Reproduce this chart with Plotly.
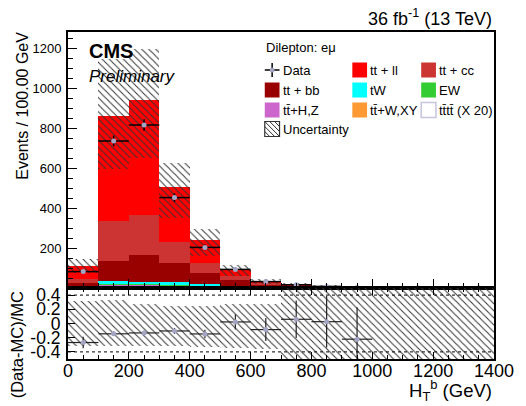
import numpy as np
import plotly.graph_objects as go

# ---------------- data ----------------
# H_T^b bins (GeV), 100 GeV wide
bin_low = [0, 100, 200, 300, 400, 500, 600, 700, 800, 900, 1000, 1100, 1200, 1300]
bin_width = 100

# stacked predictions per bin (events)
ttW_XY = [1, 7, 7, 6, 4, 2, 1, 0.5, 0.3, 0.15, 0.08, 0.04, 0.03, 0.02]
ttH_Z = [1, 11, 10, 8, 5, 2, 1, 0.5, 0.3, 0.15, 0.08, 0.04, 0.03, 0.02]
EW = [2, 3, 3, 2, 2, 1, 0.5, 0.3, 0.2, 0.1, 0.05, 0.02, 0.02, 0.01]
tW = [4, 16, 12, 15, 10, 6, 2.5, 1.2, 0.6, 0.3, 0.15, 0.07, 0.05, 0.03]
tt_bb = [15, 100, 133, 96, 56, 27, 10, 4.5, 2.3, 1.1, 0.5, 0.12, 0.1, 0.05]
tt_cc = [20, 198, 200, 105, 46, 22, 10, 4, 2, 1, 0.45, 0.1, 0.08, 0.04]
tt_ll = [69, 525, 575, 273, 115, 31, 10, 4.1, 2.1, 1.05, 0.5, 0.06, 0.05, 0.03]
tttt_x20 = [0.3, 2, 4, 5, 5, 4.5, 3.5, 2.5, 1.8, 1.2, 0.8, 0.5, 0.3, 0.2]

# observed events
data = [82, 735, 815, 452, 203, 93, 32, 16, 8, 3, 0, 1, 0, 1]

# relative systematic uncertainty of the prediction (up / down)
unc_up = [0.31, 0.33, 0.27, 0.24, 0.25, 0.27, 0.28, 0.7, 0.8, 0.9, 1.0, 1.0, 1.0, 1.0]
unc_dn = [0.32, 0.31, 0.31, 0.31, 0.33, 0.34, 0.36, 0.7, 0.8, 0.9, 1.0, 1.0, 1.0, 1.0]

# stack order, bottom first
stack = [
    ("tt\u0304+W,XY", ttW_XY, "#ff9933"),
    ("tt\u0304+H,Z", ttH_Z, "#cc66cc"),
    ("EW", EW, "#33cc33"),
    ("tW", tW, "#00ffff"),
    ("tt + bb", tt_bb, "#990000"),
    ("tt + cc", tt_cc, "#cc3333"),
    ("tt + ll", tt_ll, "#ff0000"),
]
TTTT_COLOR = "#c8c4dc"
DATA_COLOR = "#a4a4c4"

# ---------------- geometry ----------------
W, H = 526, 406
L, R, T, B = 68, 25, 32, 47
SPLIT = 288  # pixel row where the two pads meet
FONT = "Liberation Sans"


def px_x(px):
    return (px - L) / (W - L - R)


def px_y(py):
    return (H - B - py) / (H - T - B)


centers = np.array(bin_low) + bin_width / 2
mc = np.sum([np.array(v, dtype=float) for _, v, _ in stack], axis=0)
d = np.array(data, dtype=float)
up = np.array(unc_up)
dn = np.array(unc_dn)

fig = go.Figure()

# stacked prediction
base = np.zeros(len(bin_low))
for name, vals, col in stack:
    v = np.array(vals, dtype=float)
    fig.add_trace(go.Bar(
        x=centers, y=v, base=base, width=bin_width, name=name,
        marker=dict(color=col, line=dict(width=0)),
        xaxis="x", yaxis="y", showlegend=False,
    ))
    base = base + v

# four-top signal x20 as a line histogram
fig.add_trace(go.Scatter(
    x=bin_low + [bin_low[-1] + bin_width], y=tttt_x20 + [tttt_x20[-1]],
    mode="lines", line=dict(shape="hv", color=TTTT_COLOR, width=1.5),
    xaxis="x", yaxis="y", showlegend=False,
))

hatch = dict(shape="\\", fgcolor="#333333", bgcolor="rgba(0,0,0,0)",
             size=5, solidity=0.2, fillmode="replace")

# uncertainty band on the prediction
fig.add_trace(go.Bar(
    x=centers, y=mc * (up + dn), base=mc * (1 - dn), width=bin_width,
    marker=dict(color="rgba(0,0,0,0)", line=dict(width=0), pattern=hatch),
    xaxis="x", yaxis="y", showlegend=False,
))

# data points (non-empty bins)
nz = d > 0
fig.add_trace(go.Scatter(
    x=centers[nz], y=d[nz], mode="markers",
    marker=dict(color=DATA_COLOR, size=5, line=dict(width=0)),
    error_x=dict(type="constant", value=bin_width / 2, color="black", thickness=1.5, width=0),
    error_y=dict(type="data", array=np.sqrt(d[nz]), color="black", thickness=1.5, width=0),
    xaxis="x", yaxis="y", showlegend=False,
))

# ---------------- ratio pad ----------------
fig.add_trace(go.Bar(
    x=centers, y=up + dn, base=-dn, width=bin_width,
    marker=dict(color="rgba(0,0,0,0)", line=dict(width=0), pattern=hatch),
    xaxis="x2", yaxis="y2", showlegend=False,
))

ratio = d / mc - 1
ratio_err = np.sqrt(d) / mc
RMIN, RMAX = -0.5, 0.5
show = (d > 0) & (ratio > RMIN) & (ratio < RMAX)
fig.add_trace(go.Scatter(
    x=centers[show], y=ratio[show], mode="markers",
    marker=dict(color=DATA_COLOR, size=5, line=dict(width=0)),
    error_x=dict(type="constant", value=bin_width / 2, color="#222222", thickness=1.2, width=0),
    error_y=dict(type="data", array=ratio_err[show], color="#222222", thickness=1.2, width=0),
    xaxis="x2", yaxis="y2", showlegend=False,
))

for lvl in (-0.4, 0.4):
    fig.add_shape(type="line", xref="x2", yref="y2", x0=0, x1=1400, y0=lvl, y1=lvl,
                  line=dict(color="black", width=1, dash="dot"), layer="above")

# ---------------- axes ----------------
split_frac = px_y(SPLIT)
axis_common = dict(showline=True, linecolor="black", linewidth=2, ticks="inside",
                   tickcolor="black", showgrid=False, zeroline=False)

fig.update_layout(
    width=W, height=H,
    margin=dict(l=L, r=R, t=T, b=B),
    paper_bgcolor="white", plot_bgcolor="white",
    barmode="overlay", bargap=0,
    font=dict(family=FONT, color="black"),
    xaxis=dict(**axis_common, domain=[0, 1], anchor="y", range=[0, 1400], matches="x2",
               showticklabels=False, dtick=200, ticklen=9, tickwidth=1, mirror=True,
               minor=dict(dtick=50, ticklen=5, ticks="inside", tickcolor="black", showgrid=False)),
    yaxis=dict(**axis_common, domain=[split_frac, 1], anchor="x", range=[0, 1280],
               tickvals=[200, 400, 600, 800, 1000, 1200], ticklen=9, tickwidth=1, mirror=True,
               tickfont=dict(size=13), ticklabelstandoff=2,
               minor=dict(dtick=50, ticklen=5, ticks="inside", tickcolor="black", showgrid=False)),
    xaxis2=dict(**axis_common, domain=[0, 1], anchor="y2", range=[0, 1400],
                dtick=200, ticklen=7, tickwidth=1, mirror="ticks",
                tickfont=dict(size=18), ticklabelstandoff=-6,
                minor=dict(dtick=50, ticklen=4, ticks="inside", tickcolor="black", showgrid=False)),
    yaxis2=dict(**axis_common, domain=[0, split_frac], anchor="x2", range=[RMIN, RMAX],
                tickvals=[-0.4, -0.2, 0, 0.2, 0.4], ticktext=["-0.4", "-0.2", "0", "0.2", "0.4"],
                ticklen=7, tickwidth=1, mirror=True, tickfont=dict(size=17.5), ticklabelstandoff=2),
)

# ---------------- text ----------------
ann = []
ann.append(dict(text="36 fb<sup>-1</sup> (13 TeV)", x=px_x(501), y=px_y(17), xanchor="right",
                yanchor="middle", font=dict(size=18)))
ann.append(dict(text="<b>CMS</b>", x=px_x(87), y=px_y(51), xanchor="left", yanchor="middle",
                font=dict(size=20)))
ann.append(dict(text="<i>Preliminary</i>", x=px_x(87), y=px_y(76), xanchor="left", yanchor="middle",
                font=dict(size=17)))
ann.append(dict(text="Events / 100.00 GeV", textangle=-90, x=px_x(22), y=px_y(30),
                xanchor="center", yanchor="top", font=dict(size=16)))
ann.append(dict(text="(Data-MC)/MC", textangle=-90, x=px_x(16), y=px_y(289),
                xanchor="center", yanchor="top", font=dict(size=16.5)))
# x-axis title
ann.append(dict(text="H<sub>T</sub><sup>b</sup> (GeV)", x=px_x(501), y=px_y(390),
                xanchor="right", yanchor="middle", font=dict(size=18.5)))

# legend
LEG_FONT = 13
ann.append(dict(text="Dilepton: e\u03bc", x=px_x(267), y=px_y(48), xanchor="left", yanchor="middle",
                font=dict(size=LEG_FONT)))
col_x = [268, 357, 427]
row_y = [70, 90, 110]
SW = 15
legend_items = [
    ("Data", None, "data"),
    ("tt + ll", "#ff0000", "box"),
    ("tt + cc", "#cc3333", "box"),
    ("tt + bb", "#990000", "box"),
    ("tW", "#00ffff", "box"),
    ("EW", "#33cc33", "box"),
    ("tt\u0304+H,Z", "#cc66cc", "box"),
    ("tt\u0304+W,XY", "#ff9933", "box"),
    ("tt\u0304tt\u0304 (X 20)", "white", "outline"),
]
shapes = []
for i, (label, col, kind) in enumerate(legend_items):
    cx, cy = col_x[i % 3], row_y[i // 3]
    if kind == "data":
        shapes.append(dict(type="line", xref="paper", yref="paper", x0=px_x(cx), x1=px_x(cx + SW),
                           y0=px_y(cy), y1=px_y(cy), line=dict(color="black", width=1.5)))
        shapes.append(dict(type="line", xref="paper", yref="paper", x0=px_x(cx + SW / 2), x1=px_x(cx + SW / 2),
                           y0=px_y(cy - 7), y1=px_y(cy + 7), line=dict(color="black", width=1.5)))
        shapes.append(dict(type="circle", xref="paper", yref="paper", x0=px_x(cx + SW / 2 - 2.5),
                           x1=px_x(cx + SW / 2 + 2.5), y0=px_y(cy - 2.5), y1=px_y(cy + 2.5),
                           fillcolor=DATA_COLOR, line=dict(width=0)))
    else:
        line = dict(color=TTTT_COLOR, width=1.5) if kind == "outline" else dict(width=0)
        shapes.append(dict(type="rect", xref="paper", yref="paper", x0=px_x(cx), x1=px_x(cx + SW),
                           y0=px_y(cy + SW / 2), y1=px_y(cy - SW / 2), fillcolor=col, line=line))
    ann.append(dict(text=label, x=px_x(cx + SW + 1), y=px_y(cy), xanchor="left", yanchor="middle",
                    font=dict(size=LEG_FONT)))

# uncertainty swatch: outlined square with diagonal hatching
ux, uy = 268, 129
shapes.append(dict(type="rect", xref="paper", yref="paper", x0=px_x(ux), x1=px_x(ux + SW),
                   y0=px_y(uy + SW / 2), y1=px_y(uy - SW / 2), fillcolor="white",
                   line=dict(color="#333333", width=1.2)))
top = uy - SW / 2
for off in (-10, -5, 0, 5, 10):
    # segment of the line y - top = (x - ux) - off, clipped to the square
    xa = max(ux, ux + off)
    xb = min(ux + SW, ux + SW + off)
    if xb - xa < 1:
        continue
    shapes.append(dict(type="line", xref="paper", yref="paper",
                       x0=px_x(xa), y0=px_y(top + (xa - ux) - off),
                       x1=px_x(xb), y1=px_y(top + (xb - ux) - off),
                       line=dict(color="#333333", width=1)))
ann.append(dict(text="Uncertainty", x=px_x(ux + SW + 1), y=px_y(uy), xanchor="left", yanchor="middle",
                font=dict(size=LEG_FONT)))

for a in ann:
    a.setdefault("xref", "paper")
    a.setdefault("yref", "paper")
    a.setdefault("showarrow", False)

fig.update_layout(annotations=ann, shapes=list(fig.layout.shapes) + shapes)

fig.write_html("out.html")
